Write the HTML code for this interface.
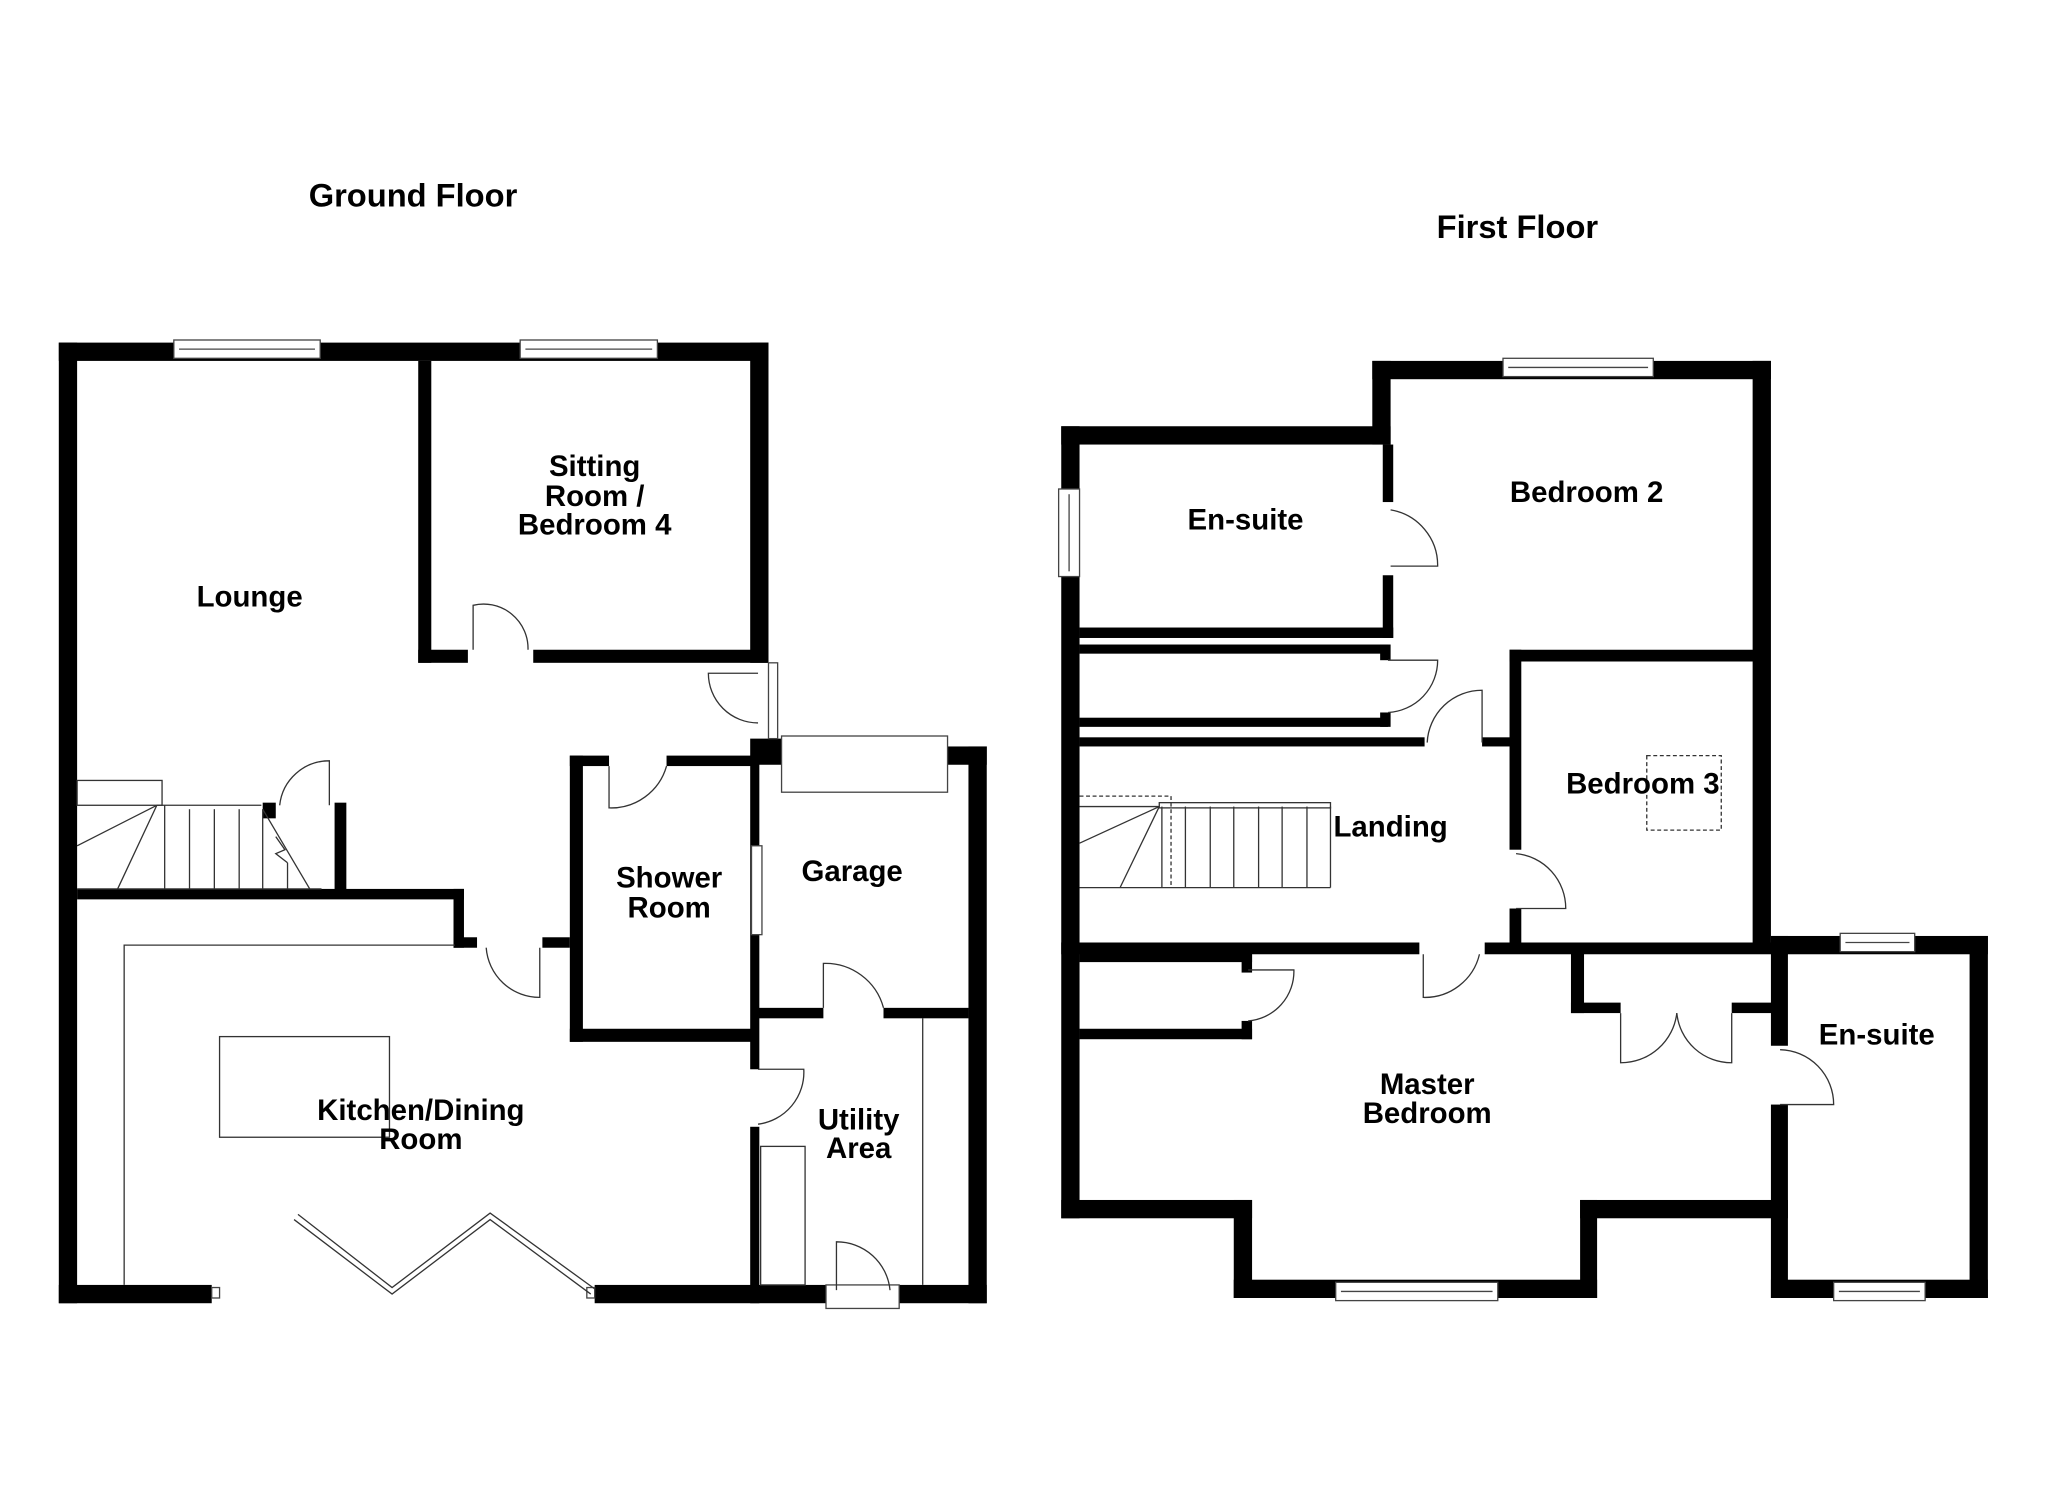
<!DOCTYPE html>
<html><head><meta charset="utf-8"><style>
html,body{margin:0;padding:0;background:#fff;}
svg{display:block;}
text{font-family:"Liberation Sans",Arial,sans-serif;font-weight:bold;fill:#000;text-anchor:middle;}
</style></head><body>
<svg width="2048" height="1489" viewBox="0 0 1567 1139" xmlns="http://www.w3.org/2000/svg">
<rect x="0" y="0" width="1567" height="1139" fill="#fff"/>
<g fill="#000">
<rect x="45" y="262" width="14" height="735"/>
<rect x="45" y="262" width="543" height="14"/>
<rect x="574" y="262" width="14" height="245"/>
<rect x="320" y="276" width="10" height="231"/>
<rect x="320" y="497" width="38" height="10"/>
<rect x="408" y="497" width="180" height="10"/>
<rect x="574" y="565" width="24" height="20"/>
<rect x="725" y="571" width="30" height="14"/>
<rect x="741" y="571" width="14" height="426"/>
<rect x="436" y="578" width="10" height="219"/>
<rect x="436" y="578" width="30" height="8"/>
<rect x="510" y="578" width="70" height="8"/>
<rect x="436" y="787" width="144" height="10"/>
<rect x="574" y="578" width="7" height="240"/>
<rect x="580" y="771" width="50" height="8"/>
<rect x="676" y="771" width="65" height="8"/>
<rect x="574" y="862" width="7" height="135"/>
<rect x="45" y="983" width="117" height="14"/>
<rect x="455" y="983" width="177" height="14"/>
<rect x="688" y="983" width="67" height="14"/>
<rect x="59" y="680" width="296" height="8"/>
<rect x="347" y="680" width="8" height="45"/>
<rect x="347" y="717" width="18" height="8"/>
<rect x="415" y="717" width="21" height="8"/>
<rect x="256" y="614" width="9" height="70"/>
<rect x="201" y="614" width="10" height="12"/>
<rect x="1050" y="276" width="305" height="14"/>
<rect x="1341" y="276" width="14" height="453"/>
<rect x="1050" y="276" width="14" height="64"/>
<rect x="812" y="326" width="252" height="14"/>
<rect x="812" y="326" width="14" height="606"/>
<rect x="1058" y="340" width="8" height="44"/>
<rect x="1058" y="440" width="8" height="48"/>
<rect x="826" y="480" width="240" height="8"/>
<rect x="826" y="493" width="236" height="7"/>
<rect x="1056" y="493" width="8" height="12"/>
<rect x="826" y="549" width="236" height="7"/>
<rect x="1056" y="545" width="8" height="11"/>
<rect x="826" y="564" width="264" height="7"/>
<rect x="1134" y="564" width="23" height="7"/>
<rect x="1155" y="497" width="9" height="153"/>
<rect x="1155" y="695" width="9" height="30"/>
<rect x="1155" y="497" width="190" height="9"/>
<rect x="812" y="721" width="274" height="9"/>
<rect x="1136" y="721" width="232" height="9"/>
<rect x="826" y="721" width="132" height="15"/>
<rect x="950" y="730" width="8" height="14"/>
<rect x="826" y="787" width="132" height="8"/>
<rect x="950" y="781" width="8" height="14"/>
<rect x="812" y="918" width="146" height="14"/>
<rect x="944" y="918" width="14" height="75"/>
<rect x="944" y="979" width="278" height="14"/>
<rect x="1209" y="918" width="13" height="75"/>
<rect x="1209" y="918" width="159" height="14"/>
<rect x="1202" y="728" width="10" height="47"/>
<rect x="1202" y="767" width="38" height="8"/>
<rect x="1325" y="767" width="35" height="8"/>
<rect x="1355" y="716" width="166" height="14"/>
<rect x="1507" y="716" width="14" height="277"/>
<rect x="1355" y="979" width="166" height="14"/>
<rect x="1355" y="716" width="13" height="84"/>
<rect x="1355" y="845" width="13" height="148"/>
</g>
<g fill="#fff" stroke="#444" stroke-width="1">
<rect x="133" y="260" width="112" height="14"/><line x1="137" y1="267" x2="241" y2="267"/>
<rect x="398" y="260" width="105" height="14"/><line x1="402" y1="267" x2="499" y2="267"/>
<rect x="1150" y="274" width="115" height="14"/><line x1="1154" y1="281" x2="1261" y2="281"/>
<rect x="810" y="374" width="16" height="67"/><line x1="818" y1="378" x2="818" y2="437"/>
<rect x="1022" y="981" width="124" height="14"/><line x1="1026" y1="988" x2="1142" y2="988"/>
<rect x="1408" y="714" width="57" height="14"/><line x1="1412" y1="721" x2="1461" y2="721"/>
<rect x="1403" y="981" width="70" height="14"/><line x1="1407" y1="988" x2="1469" y2="988"/>
<rect x="575" y="647" width="8" height="68"/>
<rect x="588" y="507" width="7" height="58"/>
<rect x="598" y="563" width="127" height="43"/>
<rect x="632" y="983" width="56" height="18"/>
<rect x="162" y="985" width="6" height="8"/>
<rect x="449" y="985" width="6" height="8"/>
</g>
<g fill="none" stroke="#333" stroke-width="1">
<path d="M362 497 L362 463 A34 34 0 0 1 404 497"/>
<path d="M580 515 L542 515 A38 38 0 0 0 580 553"/>
<path d="M466 586 L466 618 A44 44 0 0 0 510 586"/>
<path d="M630 771 L630 737 A46 46 0 0 1 676 771"/>
<path d="M580 818 L615 818 A40 40 0 0 1 580 860"/>
<path d="M640 987 L640 950 A41 41 0 0 1 681 987"/>
<path d="M413 725 L413 763 A41 41 0 0 1 372 725"/>
<path d="M252 616 L252 582 A38 38 0 0 0 214 616"/>
<path d="M225 933 L300 990 L375 933 L452 990"/>
<path d="M228 929 L300 985 L375 928 L455 986"/>
<path d="M95 983 L95 723 L348 723"/>
<rect x="168" y="793" width="130" height="77"/>
<rect x="582" y="877" width="34" height="106"/>
<line x1="706" y1="779" x2="706" y2="983"/>
<rect x="59" y="597" width="65" height="19"/>
<line x1="120" y1="616" x2="200" y2="616"/>
<line x1="59" y1="680" x2="246" y2="680"/>
<line x1="120" y1="616" x2="59" y2="647"/>
<line x1="120" y1="616" x2="90" y2="680"/>
<line x1="126" y1="616" x2="126" y2="680"/><line x1="145" y1="619" x2="145" y2="680"/><line x1="164" y1="619" x2="164" y2="680"/><line x1="183" y1="619" x2="183" y2="680"/><line x1="201" y1="619" x2="201" y2="680"/>
<path d="M201 619 L237 680"/><path d="M211 640 L218 650 L211 653 L220 660"/>
<line x1="220" y1="660" x2="220" y2="680"/>
<path d="M1064 390 A43 43 0 0 1 1100 433 L1064 433"/>
<path d="M1062 505 L1100 505 A40 40 0 0 1 1062 545"/>
<path d="M1134 568 L1134 528 A42 42 0 0 0 1092 568"/>
<path d="M1160 695 L1198 695 A42 42 0 0 0 1160 653"/>
<path d="M1089 730 L1089 763 A43 43 0 0 0 1132 730"/>
<path d="M955 742 L990 742 A38 38 0 0 1 955 781"/>
<path d="M1240 775 L1240 813 A43 43 0 0 0 1283 775"/>
<path d="M1325 775 L1325 813 A42 42 0 0 1 1283 775"/>
<path d="M1362 845 L1403 845 A42 42 0 0 0 1362 803"/>
<rect x="887" y="614" width="131" height="4" fill="#fff"/>
<line x1="826" y1="679" x2="1018" y2="679"/>
<line x1="826" y1="617" x2="887" y2="617"/>
<line x1="887" y1="617" x2="826" y2="645"/>
<line x1="887" y1="617" x2="857" y2="679"/>
<line x1="889" y1="617" x2="889" y2="679"/><line x1="907" y1="617" x2="907" y2="679"/><line x1="926" y1="617" x2="926" y2="679"/><line x1="944" y1="617" x2="944" y2="679"/><line x1="963" y1="617" x2="963" y2="679"/><line x1="981" y1="617" x2="981" y2="679"/><line x1="1000" y1="617" x2="1000" y2="679"/><line x1="1018" y1="617" x2="1018" y2="679"/>
<path d="M826 609 L896 609 L896 679" stroke-dasharray="3 2"/>
<rect x="1260" y="578" width="57" height="57" stroke-dasharray="3 2"/>
</g>
<g font-size="22.5">
<text x="316" y="158" font-size="25">Ground Floor</text>
<text x="1161" y="182" font-size="25">First Floor</text>
<text x="191" y="464">Lounge</text>
<text x="455" y="364">Sitting</text>
<text x="455" y="387">Room /</text>
<text x="455" y="409">Bedroom 4</text>
<text x="512" y="679">Shower</text>
<text x="512" y="702">Room</text>
<text x="652" y="674">Garage</text>
<text x="322" y="857">Kitchen/Dining</text>
<text x="322" y="879">Room</text>
<text x="657" y="864">Utility</text>
<text x="657" y="886">Area</text>
<text x="953" y="405">En-suite</text>
<text x="1214" y="384">Bedroom 2</text>
<text x="1257" y="607">Bedroom 3</text>
<text x="1064" y="640">Landing</text>
<text x="1092" y="837">Master</text>
<text x="1092" y="859">Bedroom</text>
<text x="1436" y="799">En-suite</text>
</g>
</svg>
</body></html>
